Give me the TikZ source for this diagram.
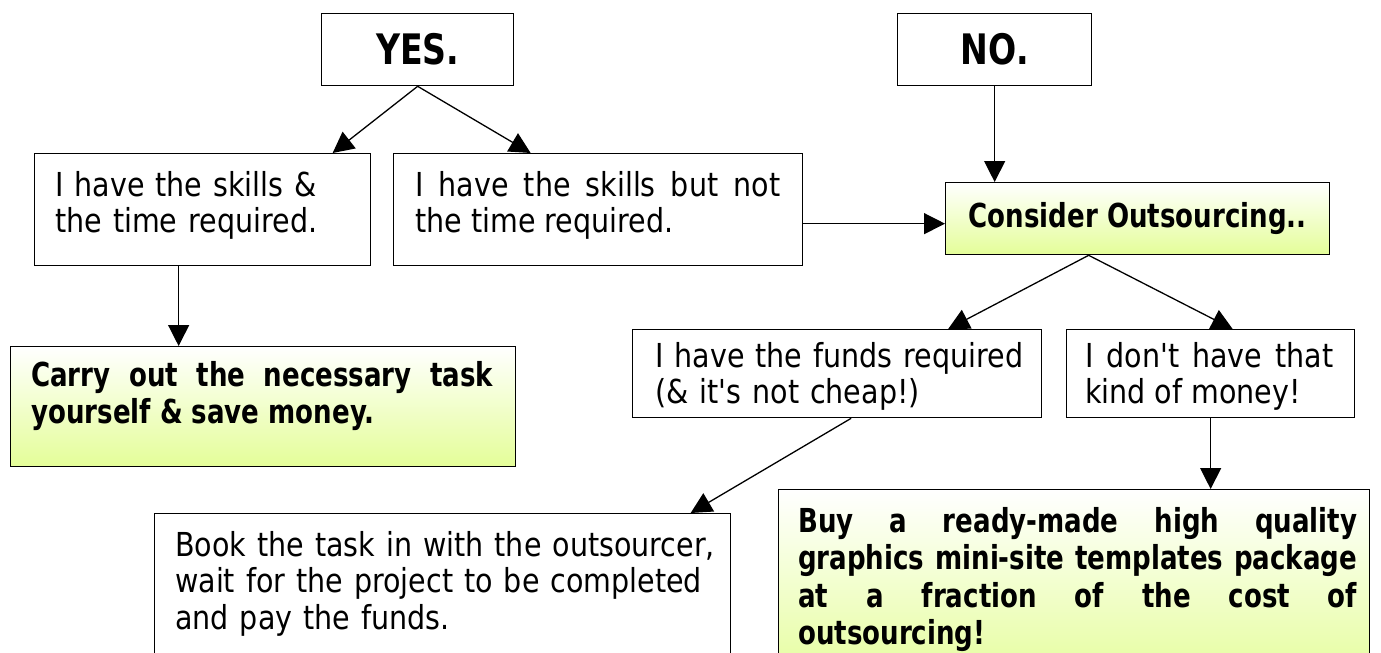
\documentclass[tikz,border=0pt]{standalone}
\usepackage{fontspec}
\setmainfont{DejaVu Sans}[FakeStretch=0.865, Ligatures=TeXOff]
\newfontfamily\bfnt{DejaVu Sans}[FakeStretch=0.79, Ligatures=TeXOff]
\usetikzlibrary{arrows.meta}
\definecolor{gy}{RGB}{228,254,152}
\tikzset{
  box/.style={draw=black, line width=1.3pt, inner sep=0pt, anchor=north west},
  gbox/.style={box, top color=white, bottom color=gy},
  txt/.style={inner sep=0pt, anchor=base west, font=\fontsize{33}{36.8}\selectfont},
  btxt/.style={txt, font=\fontsize{33}{37.5}\selectfont\bfnt\bfseries},
  big/.style={font=\fontsize{42}{46}\selectfont\bfnt\bfseries},
  arr/.style={line width=1.3pt, -{Triangle[length=21pt,width=21pt]}},
}
\begin{document}
\begin{tikzpicture}[x=1pt,y=-1pt]
\useasboundingbox (0,0) rectangle (1381,653);
% boxes
\node[box, big, minimum width=192pt, minimum height=72pt] (yes) at (321,13) {YES.};
\node[box, big, minimum width=194pt, minimum height=72pt] (no) at (897,13) {NO.};
\node[box, minimum width=336pt, minimum height=112pt] (a) at (34,153) {};
\node[box, minimum width=409pt, minimum height=112pt] (b) at (393,153) {};
\node[gbox, minimum width=384pt, minimum height=72pt, font=\fontsize{33}{36}\selectfont\bfnt\bfseries] (cons) at (945,182) {Consider Outsourcing..};
\node[gbox, minimum width=505pt, minimum height=120pt] (carry) at (10,346) {};
\node[box, minimum width=409pt, minimum height=88pt] (funds) at (632,329) {};
\node[box, minimum width=288pt, minimum height=88pt] (money) at (1066,329) {};
\node[box, minimum width=576pt, minimum height=180pt] (book) at (154,513) {};
\node[gbox, minimum width=591pt, minimum height=200pt] (buy) at (778,489) {};
% texts
\node[txt, text width=320pt, align=left] (ta) at (55,196) {I have the skills \&\\the time required.};
\node[txt, text width=365pt, align=justify] (tb) at (415,196) {I have the skills but not\linebreak the time required.};
\node[btxt, text width=462pt, align=justify] (tc) at (31,386) {Carry out the necessary task\linebreak yourself \& save money.};
\node[txt, text width=380pt, align=left] (tf) at (655,367) {I have the funds required\\(\& it's not cheap!)};
\node[txt, text width=248pt, align=justify] (tm) at (1085,367) {I don't have that\linebreak kind of money!};
\node[txt, text width=560pt, align=left] (tk) at (175,556) {Book the task in with the outsourcer,\\wait for the project to be completed\\and pay the funds.};
\node[btxt, text width=559pt, align=justify] (tu) at (798,532) {Buy a ready-made high quality\linebreak graphics mini-site templates package\linebreak at a fraction of the cost of\linebreak outsourcing!};
% connectors
\draw[arr] (yes.south) -- ([xshift=130pt]a.north);
\draw[arr] (yes.south) -- ([xshift=-67.5pt]b.north);
\draw[arr] (no.south) -- (no.south |- cons.north);
\coordinate (bE) at ([yshift=-14pt]b.east);
\draw[arr] (bE) -- (bE -| cons.west);
\coordinate (aS) at ([xshift=-24pt]a.south);
\draw[arr] (aS) -- (aS |- carry.north);
\coordinate (cS) at ([xshift=-49pt]cons.south);
\draw[arr] (cS) -- ([xshift=111pt]funds.north);
\draw[arr] (cS) -- ([xshift=22pt]money.north);
\draw[arr] ([xshift=14pt]funds.south) -- ([xshift=248pt]book.north);
\draw[arr] (money.south) -- (money.south |- buy.north);
\end{tikzpicture}
\end{document}
